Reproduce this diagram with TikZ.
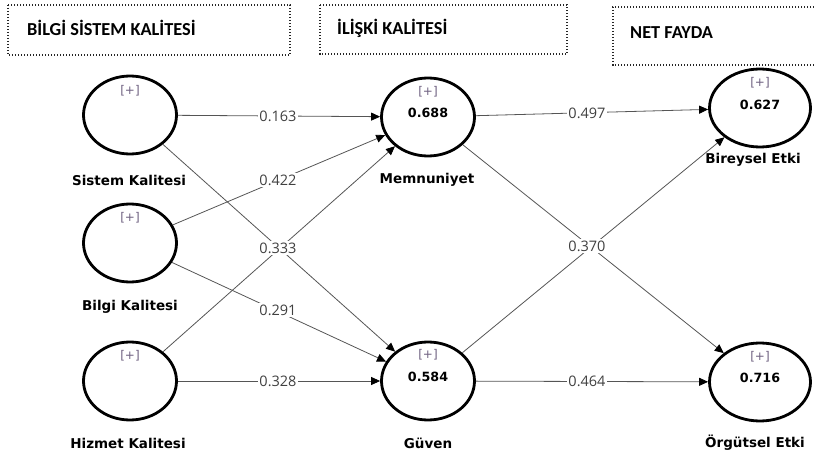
\documentclass[tikz,border=0pt]{standalone}
\usepackage{fontspec}
\setmainfont{DejaVu Sans}
\newfontfamily\numfont{Open Sans}
\newfontfamily\titlefont{Carlito}
\usetikzlibrary{shapes.geometric,arrows.meta}
\definecolor{edgegray}{HTML}{555555}
\definecolor{plusc}{HTML}{6E6080}
\definecolor{numc}{HTML}{404040}
\tikzset{
  lv/.style={ellipse, draw=black, line width=2.8pt, minimum width=93pt, minimum height=78pt, inner sep=0pt},
  lvw/.style={lv, minimum width=101pt},
  lvname/.style={font=\fontsize{13.5}{16}\selectfont\bfseries, text=black, inner sep=0pt},
  plus/.style={font=\fontsize{12}{14}\selectfont, text=plusc, inner sep=0pt},
  rsq/.style={font=\fontsize{12.7}{15}\selectfont\bfseries, text=black, inner sep=0pt},
  conn/.style={draw=edgegray, line width=0.8pt, -{Triangle[length=9pt,width=8pt,color=black]}},
  coef/.style={font=\numfont\fontsize{14.5}{17}\selectfont, text=numc, fill=white, inner sep=1.5pt},
  grp/.style={draw=black!85, line width=1.5pt, dash pattern=on 1.4pt off 1.6pt},
  grptitle/.style={font=\titlefont\bfseries\fontsize{18.3}{22}\selectfont, text=black, anchor=west, inner sep=0pt}
}
\begin{document}
\begin{tikzpicture}[x=1pt,y=-1pt]
\useasboundingbox (0,0) rectangle (814,457);
% group boxes
\draw[grp] (8,5) rectangle (290,55);
\draw[grp] (320,5) rectangle (567,54);
\draw[grp] (820,7) -| (613,65) -- (820,65);
\node[grptitle] (t1) at (27,28) {BİLGİ SİSTEM KALİTESİ};
\node[grptitle] (t2) at (337,28) {İLİŞKİ KALİTESİ};
\node[grptitle] (t3) at (630,33) {NET FAYDA};
% latent variables
\node[lv] (sk) at (130,115) {};
\node[lv] (bk) at (130,243) {};
\node[lv] (hk) at (130,381) {};
\node[lv] (mem) at (428,117) {};
\node[lv] (guv) at (428,381) {};
\node[lvw] (bir) at (760,108) {};
\node[lvw] (org) at (760,382) {};
% plus markers
\node[plus] (skp) at (130,91) {[+]};
\node[plus] (bkp) at (130,218) {[+]};
\node[plus] (hkp) at (130,356) {[+]};
\node[plus] (memp) at (428,92) {[+]};
\node[plus] (guvp) at (428,355) {[+]};
\node[plus] (birp) at (760,83) {[+]};
\node[plus] (orgp) at (760,357) {[+]};
% R squared
\node[rsq] (memr) at (428,113) {0.688};
\node[rsq] (guvr) at (428,377) {0.584};
\node[rsq] (birr) at (760,105) {0.627};
\node[rsq] (orgr) at (760,378) {0.716};
% names
\node[lvname] (skn) at (129,180) {Sistem Kalitesi};
\node[lvname] (bkn) at (130,307) {Bilgi Kalitesi};
\node[lvname] (hkn) at (128,443) {Hizmet Kalitesi};
\node[lvname] (memn) at (427,180) {Memnuniyet};
\node[lvname] (guvn) at (428,443) {Güven};
\node[lvname] (birn) at (753,160) {Bireysel Etki};
\node[lvname] (orgn) at (755,443) {Örgütsel Etki};
% paths
\draw[conn] (sk) -- (mem);
\draw[conn] (sk) -- (guv);
\draw[conn] (bk) -- (mem);
\draw[conn] (bk) -- (guv);
\draw[conn] (hk) -- (mem);
\draw[conn] (hk) -- (guv);
\draw[conn] (mem) -- (bir);
\draw[conn] (mem) -- (org);
\draw[conn] (guv) -- (bir);
\draw[conn] (guv) -- (org);
% coefficients
\node[coef] (c1) at (278,116) {0.163};
\node[coef] (c2) at (278,180) {0.422};
\node[coef] (c3) at (278,248) {0.333};
\node[coef] (c4) at (278,310) {0.291};
\node[coef] (c5) at (278,381) {0.328};
\node[coef] (c6) at (587,113) {0.497};
\node[coef] (c7) at (587,246) {0.370};
\node[coef] (c8) at (587,381) {0.464};
\end{tikzpicture}
\end{document}
